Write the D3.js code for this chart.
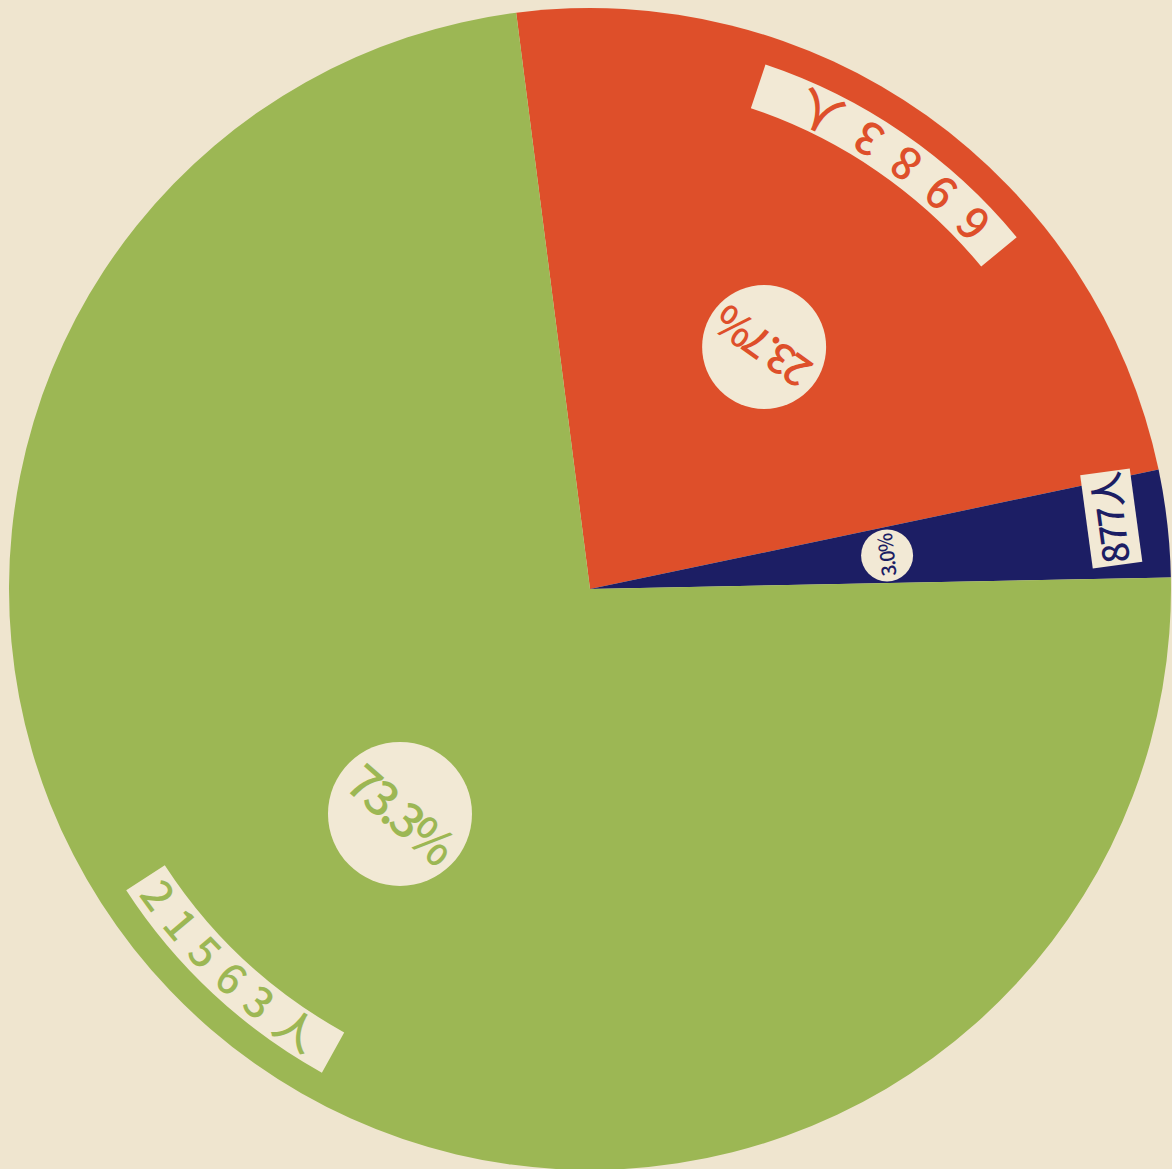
<!DOCTYPE html>
<html><head><meta charset="utf-8">
<script src="https://cdn.jsdelivr.net/npm/d3@7"></script>
<style>html,body{margin:0;padding:0;background:#efe5cf;} svg{display:block}</style>
</head><body>
<script>
// Data
const categories = ["red", "blue", "green"];
const counts = [6983, 877, 21563];
const countLabels = ["6983人", "877人", "21563人"];
const percentLabels = ["23.7%", "3.0%", "73.3%"];
const colors = ["#de4f2a", "#1c1e64", "#9cb754"];

const W = 1172, H = 1169, cx = 590, cy = 589, R = 581;
const deg = Math.PI / 180;
const paper = "#efe5cf", cardFill = "#f2e9d5";
const font = "'Noto Sans CJK JP','DejaVu Sans',sans-serif";

const svg = d3.select("body").append("svg").attr("width", W).attr("height", H);
svg.append("rect").attr("width", W).attr("height", H).attr("fill", paper);

const g = svg.append("g").attr("transform", `translate(${cx},${cy})`);
const pie = d3.pie().sort(null).value(d => d)
  .startAngle(-7.3 * deg).endAngle(352.7 * deg);
const arcs = pie(counts);
const arc = d3.arc().innerRadius(0).outerRadius(R);

g.selectAll("path.slice").data(arcs).join("path")
  .attr("class", "slice").attr("d", arc).attr("fill", (d, i) => colors[i]);

// percentage discs at centroid radius
const labelArc = d3.arc().innerRadius(297).outerRadius(297);
const discR = [62, 26, 72];
const pctSize = [42, 20, 48];
arcs.forEach((d, i) => {
  const [x, y] = labelArc.centroid(d);
  const mid = (d.startAngle + d.endAngle) / 2 / deg;
  const gg = g.append("g").attr("transform", `translate(${x + (i === 2 ? 4 : 2)},${y})`);
  gg.append("circle").attr("r", discR[i]).attr("fill", cardFill);
  gg.append("text").attr("transform", `rotate(${mid + 180})`)
    .attr("text-anchor", "middle").attr("dy", "0.36em")
    .attr("font-family", font).attr("font-size", pctSize[i])
    .attr("font-weight", 500)
    .attr("letter-spacing", i === 1 ? -1.5 : -4)
    .attr("fill", colors[i]).text(percentLabels[i]);
});

// curved count bands for red and green
const bands = [
  {i: 0, a0: 18.5, a1: 50.5, size: 44, spacing: 20},
  {i: 2, a0: 209, a1: 237, size: 42, spacing: 13}
];
const bandArc = d3.arc().innerRadius(507).outerRadius(553);
bands.forEach((b, k) => {
  g.append("path").attr("d", bandArc({startAngle: b.a0 * deg, endAngle: b.a1 * deg}))
    .attr("fill", cardFill);
  const p = d3.path();
  p.arc(0, 0, 530, (b.a1 - 90) * deg, (b.a0 - 90) * deg, true);
  g.append("path").attr("id", "tp" + k).attr("d", p.toString()).attr("fill", "none");
  g.append("text").attr("font-family", font).attr("font-size", b.size)
    .attr("font-weight", 500)
    .attr("fill", colors[b.i]).attr("letter-spacing", b.spacing).attr("dy", "0.36em")
    .append("textPath").attr("href", "#tp" + k).attr("startOffset", "50%")
    .attr("text-anchor", "middle").text(countLabels[b.i]);
});

// blue rectangular card
{
  const th = 82.3, r = 526;
  const x = r * Math.sin(th * deg), y = -r * Math.cos(th * deg);
  const gg = g.append("g").attr("transform", `translate(${x},${y}) rotate(${th + 180})`);
  gg.append("rect").attr("x", -47).attr("y", -25).attr("width", 94).attr("height", 50)
    .attr("fill", cardFill);
  gg.append("text").attr("text-anchor", "middle").attr("dy", "0.36em")
    .attr("font-family", font).attr("font-size", 36).attr("font-weight", 500)
    .attr("letter-spacing", -2)
    .attr("fill", colors[1]).text(countLabels[1]);
}
</script>
</body></html>
